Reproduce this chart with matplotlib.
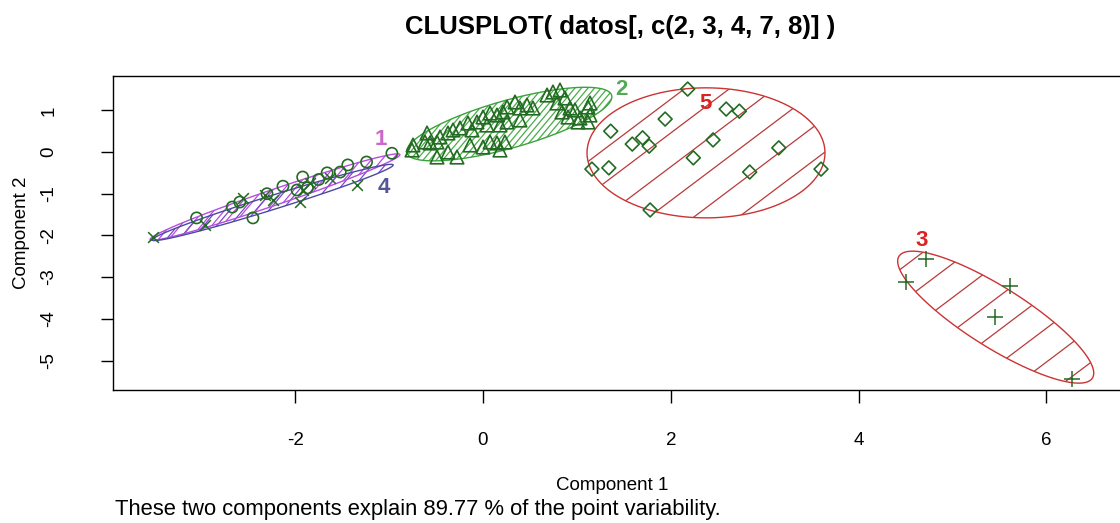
import numpy as np
import matplotlib
matplotlib.use("Agg")
import matplotlib.pyplot as plt
from matplotlib.patches import Polygon

plt.rcParams['font.family'] = ['Liberation Sans', 'DejaVu Sans']
plt.rcParams['axes.unicode_minus'] = False

# ---- cluster scores on the first two components ----
c1_x = [-3.05, -2.67, -2.59, -2.45, -2.13, -1.92, -1.87, -1.98, -1.66, -1.52, -1.44, -1.24, -0.97, -2.30, -1.75]
c1_y = [-1.58, -1.32, -1.20, -1.58, -0.82, -0.60, -0.86, -0.91, -0.50, -0.48, -0.31, -0.24, -0.03, -1.00, -0.66]

c2_x = [-0.756, -0.596, -0.564, -0.490, -0.458, -0.373, -0.319, -0.490, -0.373, -0.277,
        -0.245, -0.160, -0.117, -0.064, 0.000, 0.043, 0.075, 0.149, 0.213, 0.181,
        0.000, 0.075, 0.149, 0.234, 0.256, 0.341, 0.394, 0.469, 0.532, 0.256,
        0.394, 0.682, 0.745, 0.820, 0.873, 0.788, 0.841, 0.927, 0.905, 1.033,
        1.118, 1.140, 1.012, 1.118, 0.980, -0.745, -0.618, 0.181, 1.140, -0.138]
c2_y = [0.048, 0.456, 0.216, 0.240, 0.360, 0.456, 0.528, -0.120, 0.000, -0.120,
        0.576, 0.695, 0.528, 0.719, 0.839, 0.647, 0.935, 0.887, 0.959, 0.647,
        0.120, 0.240, 0.216, 0.240, 1.079, 1.199, 1.055, 1.127, 1.055, 0.719,
        0.767, 1.367, 1.439, 1.487, 1.295, 1.175, 0.959, 1.055, 0.839, 0.815,
        1.079, 0.887, 0.719, 0.719, 1.007, 0.168, 0.240, 0.048, 1.175, 0.168]

c3_x = [4.72, 4.51, 5.61, 5.45, 6.27]
c3_y = [-2.57, -3.12, -3.21, -3.96, -5.44]

c4_x = [-3.51, -2.96, -2.56, -2.32, -2.24, -1.92, -1.84, -1.95, -1.63, -1.34]
c4_y = [-2.04, -1.75, -1.10, -1.03, -1.15, -0.91, -0.74, -1.20, -0.62, -0.79]

c5_x = [2.18, 2.59, 2.73, 1.94, 1.36, 1.59, 1.70, 1.77, 2.45, 3.15, 2.24, 1.16, 1.34, 2.84, 3.60, 1.78]
c5_y = [1.51, 1.03, 0.98, 0.79, 0.50, 0.19, 0.34, 0.14, 0.29, 0.10, -0.14, -0.41, -0.38, -0.48, -0.41, -1.39]

# spanning ellipses: centre and two conjugate semi-axis vectors
ell_center = {1: (-2.215, -1.08), 2: (0.28, 0.67), 3: (5.46, -3.96), 4: (-2.24, -1.21), 5: (2.375, -0.02)}
ell_u = {1: (1.33, 1.02), 2: (1.09, 0.69), 3: (1.03, -1.46), 4: (1.283, 0.90), 5: (1.267, 0.0)}
ell_v = {1: (-0.027, 0.18), 2: (-0.07, 0.55), 3: (0.17, 0.61), 4: (-0.022, 0.16), 5: (0.0, 1.559)}

label_pos = {1: (-1.086, 0.31), 2: (1.47, 1.49), 3: (4.675, -2.13), 4: (-1.054, -0.86), 5: (2.375, 1.175)}

title = "CLUSPLOT( datos[, c(2, 3, 4, 7, 8)] )"
explained = 89.77

# ---- styling ----
line_col = {1: '#b44de0', 2: '#3aa33a', 3: '#cc3333', 4: '#4a4aa0', 5: '#cc3333'}
hatch_col = {1: '#b44de0', 2: '#4aac4a', 3: '#b83a3a', 4: '#7a4ac8', 5: '#b83a3a'}
label_col = {1: '#cc66cc', 2: '#55aa55', 3: '#dd2222', 4: '#555599', 5: '#dd2222'}
hatch_angle = {1: 50, 2: 50, 3: 37, 4: 50, 5: 37}
hatch_gap = {1: 8, 2: 5, 3: 27, 4: 10, 5: 27}
pt_col = '#236b23'

fig = plt.figure(figsize=(11.2, 5.23), dpi=100)
W, H = 1120, 523
ax = fig.add_axes([113 / W, 1 - 390 / H, (1122 - 113) / W, (390 - 76) / H])
ax.set_xlim(-3.940, 6.805)
ax.set_ylim(-5.707, 1.823)


def ellipse_pts(k, n=200):
    t = np.linspace(0, 2 * np.pi, n)
    cx, cy = ell_center[k]
    ux, uy = ell_u[k]
    vx, vy = ell_v[k]
    return np.column_stack([cx + np.cos(t) * ux + np.sin(t) * vx,
                            cy + np.cos(t) * uy + np.sin(t) * vy])


def shade(k):
    pts = ellipse_pts(k)
    poly = Polygon(pts, closed=True, facecolor='none', edgecolor=line_col[k], lw=1.0, zorder=2)
    ax.add_patch(poly)
    disp = ax.transData.transform(pts)
    c = disp.mean(axis=0)
    r = np.max(np.hypot(*(disp - c).T)) + 5
    a = np.deg2rad(hatch_angle[k])
    d = np.array([np.cos(a), np.sin(a)])
    nrm = np.array([-np.sin(a), np.cos(a)])
    inv = ax.transData.inverted()
    for off in np.arange(-r, r, hatch_gap[k]):
        p0 = c + nrm * off - d * r
        p1 = c + nrm * off + d * r
        seg = inv.transform(np.array([p0, p1]))
        ln, = ax.plot(seg[:, 0], seg[:, 1], color=hatch_col[k], lw=0.9, zorder=1.5)
        ln.set_clip_path(poly)


for k in (5, 3, 2, 1, 4):
    shade(k)

mk = dict(facecolors='none', edgecolors=pt_col, linewidths=1.2, zorder=3)
ax.scatter(c1_x, c1_y, marker='o', s=65, **mk)
ax.scatter(c2_x, c2_y, marker='^', s=95, **mk)
ax.scatter(c5_x, c5_y, marker='D', s=50, **mk)
ax.scatter(c3_x, c3_y, marker='+', s=120, c=pt_col, linewidths=1.1, zorder=3)
ax.scatter(c4_x, c4_y, marker='x', s=60, c=pt_col, linewidths=1.1, zorder=3)

for k, (lx, ly) in label_pos.items():
    ax.text(lx, ly, str(k), color=label_col[k], fontsize=16, fontweight='bold',
            ha='center', va='center', zorder=4)

ax.set_xticks([-2, 0, 2, 4, 6])
ax.set_yticks([1, 0, -1, -2, -3, -4, -5])
ax.tick_params(axis='both', direction='out', length=9, width=1, labelsize=13.5, color='black')
ax.tick_params(axis='x', pad=21)
ax.tick_params(axis='y', pad=31)
for lab in ax.get_yticklabels():
    lab.set_rotation(90)
    lab.set_va('center')
for s in ax.spines.values():
    s.set_linewidth(1.0)

fig.text(620 / W, 1 - 27 / H, title, ha='center', va='center', fontsize=18.5, fontweight='bold')
fig.text(612 / W, 1 - 485 / H, "Component 1", ha='center', va='center', fontsize=13.5)
fig.text(22 / W, 1 - 233 / H, "Component 2", ha='center', va='center', fontsize=13.5, rotation=90)
fig.text(115 / W, 1 - 510 / H, f"These two components explain {explained:.2f} % of the point variability.",
         ha='left', va='center', fontsize=15.8)

fig.savefig("out.png", dpi=100)
